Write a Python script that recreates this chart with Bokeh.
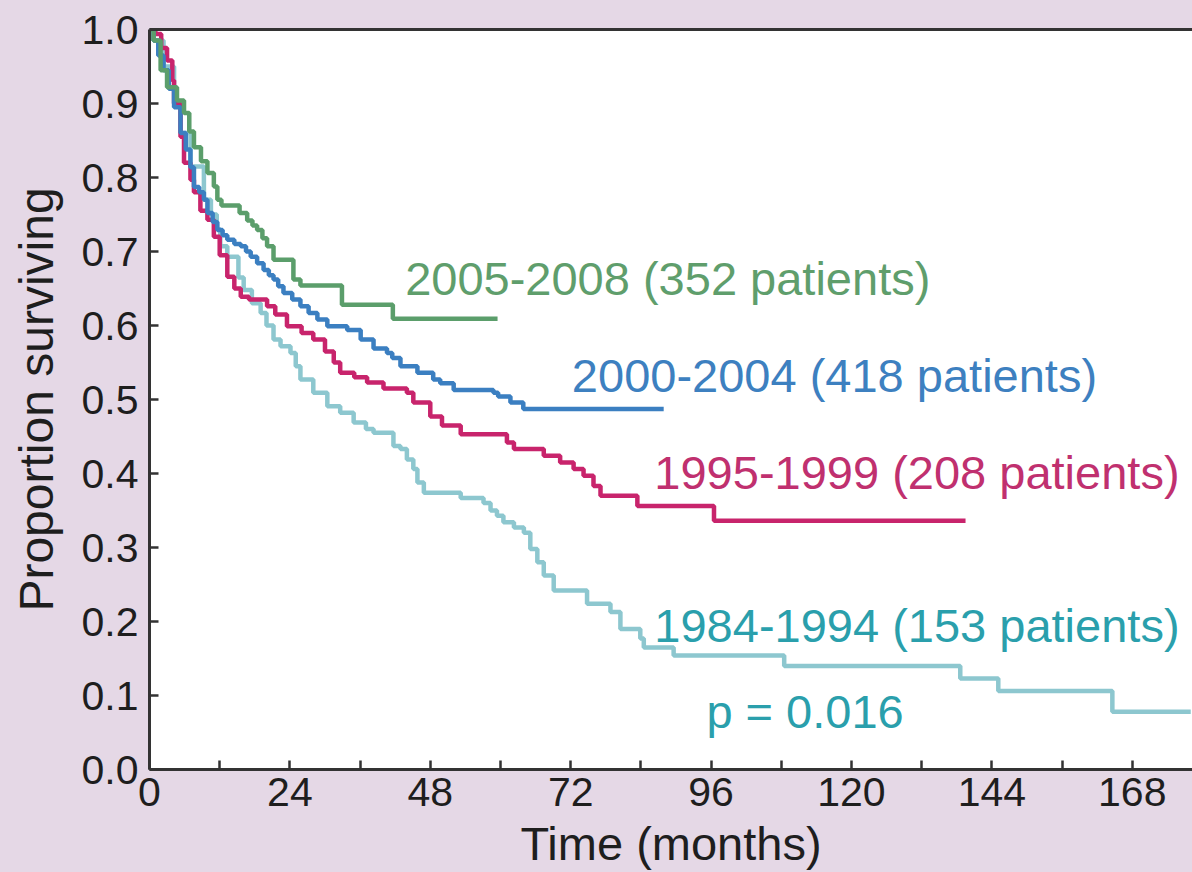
from bokeh.plotting import figure
from bokeh.models import (Range1d, FixedTicker, PrintfTickFormatter, LinearAxis, ColumnDataSource,
                          GlobalInlineStyleSheet)
from bokeh.embed import file_html
from bokeh.resources import INLINE
from bokeh.core.properties import value

# ---- data (months, proportion surviving), Kaplan-Meier step points ----
t_2005 = [0, 0.7, 1.9, 3.0, 4.7, 5.9, 6.8, 7.6, 8.8, 9.9, 11.0, 11.6, 12.3, 15.4, 16.7, 17.6, 18.4,
          19.3, 20.1, 21.2, 24.6, 25.8, 32.9, 41.6, 59.5]
s_2005 = [1.0, 0.985, 0.945, 0.922, 0.904, 0.887, 0.862, 0.841, 0.822, 0.806, 0.788, 0.770, 0.762,
          0.752, 0.742, 0.735, 0.729, 0.718, 0.707, 0.689, 0.662, 0.654, 0.628, 0.609, 0.609]

t_2000 = [0, 0.7, 1.5, 2.4, 3.3, 4.2, 5.3, 6.2, 7.0, 7.6, 8.5, 9.3, 9.9, 10.8, 11.6, 12.5, 13.3, 14.5,
          15.6, 16.5, 17.3, 18.4, 19.5, 20.4, 21.2, 22.0, 22.9, 24.4, 25.8, 27.2, 28.7, 30.4, 33.8,
          36.1, 38.3, 40.6, 41.5, 42.9, 45.8, 48.5, 49.7, 52.0, 58.8, 59.6, 61.7, 63.9, 87.9]
s_2000 = [1.0, 0.985, 0.965, 0.945, 0.92, 0.895, 0.86, 0.838, 0.814, 0.787, 0.78, 0.77, 0.752, 0.74,
          0.729, 0.722, 0.716, 0.71, 0.707, 0.70, 0.693, 0.684, 0.675, 0.668, 0.662, 0.653, 0.644,
          0.635, 0.626, 0.617, 0.608, 0.599, 0.594, 0.581, 0.569, 0.563, 0.556, 0.545, 0.536, 0.527,
          0.522, 0.513, 0.509, 0.504, 0.496, 0.487, 0.487]

t_1995 = [0, 1.0, 2.0, 3.0, 3.9, 4.2, 5.3, 5.9, 7.0, 7.6, 8.7, 9.9, 11.0, 12.0, 13.3, 14.5, 15.6, 17.0,
          20.1, 21.5, 23.5, 26.0, 28.0, 30.0, 31.5, 32.6, 35.0, 37.2, 40.0, 44.0, 45.1, 48.0, 50.0,
          53.2, 61.1, 62.3, 67.4, 70.2, 72.5, 74.2, 75.9, 77.1, 83.4, 96.5, 139.5]
s_1995 = [1.0, 0.994, 0.975, 0.958, 0.931, 0.90, 0.855, 0.82, 0.797, 0.78, 0.755, 0.743, 0.72, 0.695,
          0.666, 0.65, 0.639, 0.635, 0.626, 0.615, 0.599, 0.59, 0.581, 0.565, 0.55, 0.536, 0.53,
          0.523, 0.515, 0.509, 0.496, 0.477, 0.465, 0.453, 0.442, 0.433, 0.424, 0.415, 0.406, 0.397,
          0.383, 0.370, 0.356, 0.336, 0.336]

t_1984 = [0, 0.7, 2.4, 4.2, 5.3, 7.0, 9.3, 10.5, 11.5, 12.1, 13.3, 15.2, 16.1, 17.5, 19.0, 20.0, 21.2,
          22.4, 24.1, 25.0, 25.8, 28.0, 30.4, 32.6, 34.9, 37.0, 38.3, 41.7, 42.9, 44.0, 45.1, 45.8,
          46.9, 53.2, 57.1, 58.3, 59.4, 60.5, 62.3, 64.0, 65.1, 66.3, 67.4, 69.1, 74.8, 78.8, 80.5,
          83.9, 84.5, 89.6, 108.5, 138.6, 145.1, 164.6, 178.0]
s_1984 = [1.0, 0.985, 0.95, 0.90, 0.86, 0.815, 0.77, 0.75, 0.73, 0.707, 0.693, 0.665, 0.648, 0.63,
          0.617, 0.60, 0.581, 0.572, 0.563, 0.545, 0.527, 0.509, 0.491, 0.482, 0.469, 0.46, 0.455,
          0.437, 0.433, 0.419, 0.406, 0.388, 0.374, 0.367, 0.36, 0.35, 0.343, 0.334, 0.327, 0.32,
          0.298, 0.28, 0.262, 0.242, 0.224, 0.213, 0.19, 0.177, 0.165, 0.154, 0.14, 0.123, 0.106,
          0.078, 0.078]

x_ticks = [0, 12, 24, 36, 48, 60, 72, 84, 96, 108, 120, 132, 144, 156, 168]
x_tick_labels = ["0", "", "24", "", "48", "", "72", "", "96", "", "120", "", "144", "", "168"]
y_ticks = [0.0, 0.1, 0.2, 0.3, 0.4, 0.5, 0.6, 0.7, 0.8, 0.9, 1.0]

label_texts = ["2005-2008 (352 patients)", "2000-2004 (418 patients)",
               "1995-1999 (208 patients)", "1984-1994 (153 patients)", "p = 0.016"]
label_x = [43.7, 72.2, 86.3, 86.3, 95.2]
label_y = [0.664, 0.533, 0.401, 0.195, 0.079]
label_colors = ["#5f9e6c", "#3d80c0", "#c0306f", "#2a9fac", "#2a9fac"]

# ---- styling ----
BG = "#e5d8e6"
FONT = "Liberation Sans"
AXIS_COLOR = "#333333"

p = figure(width=1192, height=872, output_backend="svg", toolbar_location=None,
           x_range=Range1d(0, 178.3), y_range=Range1d(0, 1.0),
           min_border_left=149, min_border_right=0, min_border_top=29, min_border_bottom=101,
           background_fill_color="white", border_fill_color=BG, outline_line_color=None)
p.stylesheets = [GlobalInlineStyleSheet(
    css="html, body { margin: 0; padding: 0; overflow: hidden; background: %s; }" % BG)]
p.grid.visible = False

series = [
    (t_1984, s_1984, "#8dc7cf"),
    (t_1995, s_1995, "#c8246c"),
    (t_2000, s_2000, "#3b7fc1"),
    (t_2005, s_2005, "#5b9e6b"),
]
for t, s, c in series:
    p.step(t, s, mode="after", line_width=4.5, line_color=c)

src = ColumnDataSource(dict(x=label_x, y=label_y, text=label_texts, color=label_colors))
p.text(x="x", y="y", text="text", text_color="color", source=src,
       text_font=value(FONT), text_font_size="47px", text_baseline="alphabetic", text_align="left")

# x axis
xa = p.xaxis[0]
xa.ticker = FixedTicker(ticks=x_ticks, minor_ticks=[])
xa.major_label_overrides = {t: l for t, l in zip(x_ticks, x_tick_labels)}
xa.axis_label = "Time (months)"
# y axis
ya = p.yaxis[0]
ya.ticker = FixedTicker(ticks=y_ticks, minor_ticks=[])
ya.formatter = PrintfTickFormatter(format="%.1f")
ya.axis_label = "Proportion surviving"

for ax in (xa, ya):
    ax.axis_line_width = 3
    ax.axis_line_color = AXIS_COLOR
    ax.major_tick_in = 9
    ax.major_tick_out = 0
    ax.major_tick_line_width = 2.5
    ax.major_tick_line_color = AXIS_COLOR
    ax.minor_tick_line_color = None
    ax.major_label_text_font = FONT
    ax.major_label_text_font_size = "41px"
    ax.major_label_text_color = "#1e1e1e"
    ax.axis_label_text_font = FONT
    ax.axis_label_text_font_style = "normal"
    ax.axis_label_text_color = "#1e1e1e"
xa.axis_label_text_font_size = "47px"
ya.axis_label_text_font_size = "48px"
xa.major_label_standoff = 8
xa.axis_label_standoff = 8
ya.major_label_standoff = 11
ya.axis_label_standoff = 16

top = LinearAxis(ticker=FixedTicker(ticks=[]), major_label_text_font_size="0px",
                 major_tick_line_color=None, minor_tick_line_color=None,
                 axis_line_width=3, axis_line_color=AXIS_COLOR)
p.add_layout(top, "above")

open("out.html", "w").write(file_html(p, INLINE))
